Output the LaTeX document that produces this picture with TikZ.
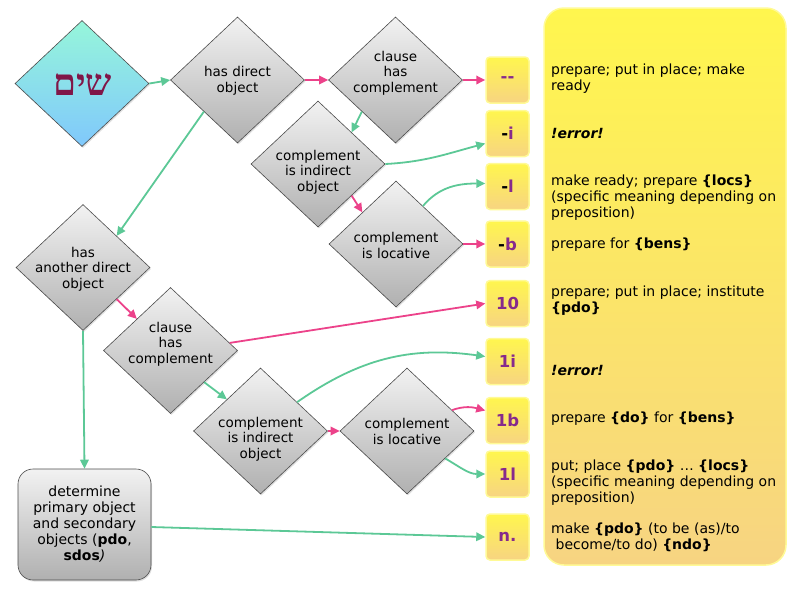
\documentclass[tikz,border=0pt]{standalone}
\usepackage{fontspec}
\setmainfont{DejaVu Sans}
\newfontfamily\hebfont[Script=Hebrew]{Liberation Serif}
\TeXXeTstate=1
\usetikzlibrary{shapes.geometric,arrows.meta,calc,shadows}
\definecolor{pinkA}{RGB}{236,66,138}
\definecolor{greenA}{RGB}{92,200,150}
\definecolor{purpA}{RGB}{134,42,140}
\definecolor{hebC}{RGB}{128,22,72}
\definecolor{grayTop}{RGB}{242,242,242}
\definecolor{grayBot}{RGB}{176,176,176}
\definecolor{yelTop}{RGB}{255,246,78}
\definecolor{yelBot}{RGB}{247,212,130}
\definecolor{yelBorder}{RGB}{255,250,150}
\definecolor{mintC}{RGB}{150,246,218}
\definecolor{cyanC}{RGB}{140,236,250}
\definecolor{blueC}{RGB}{128,200,252}
\tikzset{
  gdiam/.style={diamond, draw=black!70, line width=0.6pt, top color=grayTop, bottom color=grayBot,
    minimum width=134pt, minimum height=126pt, inner sep=0pt, aspect=1.06,
    drop shadow={shadow xshift=1pt, shadow yshift=-1.5pt, opacity=0.25}},
  hdiam/.style={gdiam, top color=mintC, middle color=cyanC, bottom color=blueC},
  dtext/.style={font=\fontsize{13.5}{15.7}\selectfont, align=center, inner sep=0pt},
  gbox/.style={rectangle, rounded corners=15pt, draw=black!70, line width=0.6pt, top color=grayTop, bottom color=grayBot,
    minimum width=133pt, minimum height=111pt, inner sep=0pt, align=center,
    font=\fontsize{14}{16}\selectfont,
    drop shadow={shadow xshift=1pt, shadow yshift=-1.5pt, opacity=0.25}},
  codebox/.style={rectangle, rounded corners=4pt, draw=yelBorder, line width=1.5pt, top color=yelTop, bottom color=yelBot,
    minimum width=43pt, minimum height=46pt, inner sep=0pt, font=\fontsize{16.5}{18}\bfseries\selectfont, text=purpA},
  panel/.style={rectangle, rounded corners=20pt, draw=yelBorder, line width=1.5pt, top color=yelTop, bottom color=yelBot,
    minimum width=242pt, minimum height=557pt, inner sep=0pt},
  ptext/.style={anchor=base west, align=left, inner sep=0pt, font=\fontsize{14}{16}\selectfont},
  garrow/.style={draw=greenA, line width=1.8pt, -{Triangle[length=9pt,width=8.5pt]}},
  parrow/.style={draw=pinkA, line width=1.8pt, -{Triangle[length=9pt,width=8.5pt]}}
}
\begin{document}
\begin{tikzpicture}[x=1pt,y=-1pt]
\useasboundingbox (0,0) rectangle (793,595);
% panel
\node[panel] (pan) at (665,286.5) {};
% diamonds
\node[hdiam] (d1) at (82,83.5) {};
\node[font=\hebfont\bfseries\fontsize{37}{40}\selectfont, text=hebC, inner sep=0pt, anchor=base] (heb) at (82.5,95) {\beginR שים\endR};
\node[gdiam] (d2) at (237.5,80) {};
\node[dtext] (d2t) at (237.5,81) {has direct\\object};
\node[gdiam] (d3) at (395.5,80) {};
\node[dtext] (d3t) at (395.5,73) {clause\\has\\complement};
\node[gdiam] (d4) at (318,164) {};
\node[dtext] (d4t) at (318,172) {complement\\is indirect\\object};
\node[gdiam] (d5) at (396,244) {};
\node[dtext] (d5t) at (396,245.5) {complement\\is locative};
\node[gdiam] (d6) at (83,267.5) {};
\node[dtext] (d6t) at (83,269) {has\\another direct\\object};
\node[gdiam] (d7) at (170.5,350.5) {};
\node[dtext] (d7t) at (170.5,344) {clause\\has\\complement};
\node[gdiam] (d8) at (260.5,431) {};
\node[dtext] (d8t) at (260.5,439) {complement\\is indirect\\object};
\node[gdiam] (d9) at (407,431) {};
\node[dtext] (d9t) at (407,431.5) {complement\\is locative};
\node[gbox] (rb) at (84.5,524.5) {determine\\primary object\\and secondary\\objects (\textbf{pdo},\\\textbf{sdos}\textit{)}};
% code boxes
\node[codebox] (c1) at (507.5,80) {-{}-};
\node[codebox] (c2) at (507.5,133.5) {{\color{black}-}i};
\node[codebox] (c3) at (507.5,186.5) {{\color{black}-}l};
\node[codebox] (c4) at (507.5,244) {{\color{black}-}b};
\node[codebox] (c5) at (507.5,303.5) {10};
\node[codebox] (c6) at (507.5,361.5) {1i};
\node[codebox] (c7) at (507.5,420.5) {1b};
\node[codebox] (c8) at (507.5,474) {1l};
\node[codebox] (c9) at (507.5,537) {n.};
% panel texts (base anchor = last line baseline)
\node[ptext] (p1) at (551,90) {prepare; put in place; make\\ready};
\node[ptext] (p2) at (551,138) {\textbf{\textit{!error!}}};
\node[ptext] (p3) at (551,217) {make ready; prepare \textbf{\{locs\}}\\(specific meaning depending on\\preposition)};
\node[ptext] (p4) at (551,248) {prepare for \textbf{\{bens\}}};
\node[ptext] (p5) at (551,312) {prepare; put in place; institute\\\textbf{\{pdo\}}};
\node[ptext] (p6) at (551,375) {\textbf{\textit{!error!}}};
\node[ptext] (p7) at (551,422) {prepare \textbf{\{do\}} for \textbf{\{bens\}}};
\node[ptext] (p8) at (551,502) {put; place \textbf{\{pdo\}} … \textbf{\{locs\}}\\(specific meaning depending on\\preposition)};
\node[ptext] (p9) at (551,549) {make \textbf{\{pdo\}} (to be (as)/to\\\ become/to do) \textbf{\{ndo\}}};
% connectors
\draw[garrow] (d1.east) -- (d2.west);
\draw[parrow] (d2.east) -- (d3.west);
\draw[parrow] (d3.east) -- (c1.west);
\draw[garrow] (d3.south west) -- (d4.north east);
\draw[garrow] (d2.south west) -- (d6.north east);
\draw[garrow] (d4.east) to[out=3,in=195] ([yshift=-10pt]c2.west);
\draw[parrow] (d4.south east) -- (d5.north west);
\draw[garrow] ($(d5.north)!0.4!(d5.east)$) to[out=50,in=180] ([yshift=3pt]c3.west);
\draw[parrow] (d5.east) -- (c4.west);
\draw[parrow] (d6.south east) -- (d7.north west);
\draw[garrow] (d6.south) -- (rb.north);
\draw[parrow] ($(d7.north)!0.88!(d7.east)$) -- (c5.west);
\draw[garrow] (d7.south east) -- (d8.north west);
\draw[garrow] ($(d8.north)!0.544!(d8.east)$) to[out=35,in=172] ([yshift=5pt]c6.west);
\draw[parrow] (d8.east) -- (d9.west);
\draw[parrow] ($(d9.north)!0.67!(d9.east)$) to[out=20,in=165] ([yshift=10pt]c7.west);
\draw[garrow] ($(d9.east)!0.433!(d9.south)$) to[out=-30,in=180] (c8.west);
\draw[garrow] ([yshift=-2.5pt]rb.east) -- (c9.west);
\end{tikzpicture}
\end{document}
